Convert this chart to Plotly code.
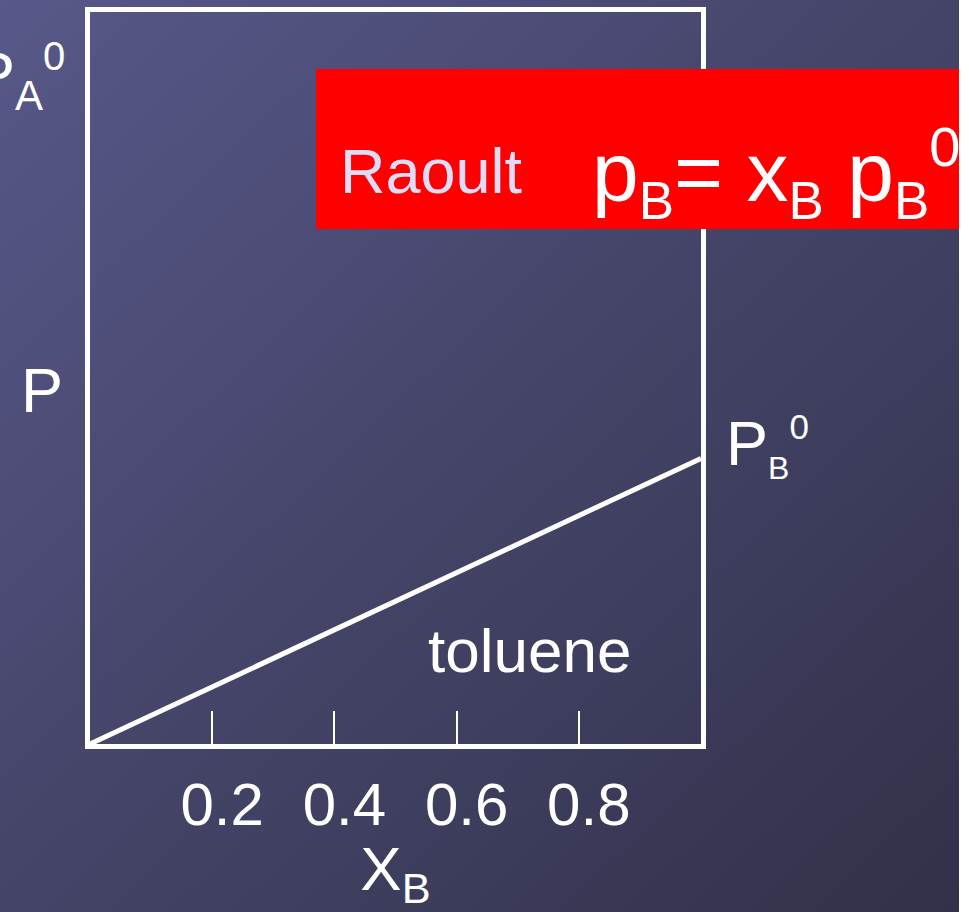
import base64
import plotly.graph_objects as go

# Vapour pressure of toluene (component B) vs. its mole fraction, ideal (Raoult) behaviour
x_b = [0.0, 1.0]
p_toluene = [0.0, 0.39]          # p_B = x_B * p_B0, with p_B0 as a fraction of the P axis
tick_vals = [0.2, 0.4, 0.6, 0.8]
tick_text = ["0.2", "0.4", "0.6", "0.8"]

W, H = 969, 912
SLIDE_W = 959
FONT = "Liberation Sans, Arial, sans-serif"


def px(x):
    return x / W


def py(y):
    return 1 - y / H


# diagonal slide-style gradient used as the backdrop
svg = f"""<svg xmlns='http://www.w3.org/2000/svg' width='{SLIDE_W}' height='{H}' viewBox='0 0 {SLIDE_W} {H}' preserveAspectRatio='none'>
<defs><linearGradient id='g' x1='0' y1='0' x2='1' y2='1'>
<stop offset='0' stop-color='#58588a'/>
<stop offset='0.5' stop-color='#444468'/>
<stop offset='1' stop-color='#31314a'/>
</linearGradient></defs>
<rect width='{SLIDE_W}' height='{H}' fill='url(#g)'/></svg>"""
bg_uri = "data:image/svg+xml;base64," + base64.b64encode(svg.encode()).decode()

fig = go.Figure()
fig.add_trace(go.Scatter(
    x=x_b, y=p_toluene, mode="lines",
    line=dict(color="white", width=5),
    hoverinfo="skip", showlegend=False,
))

fig.update_layout(
    width=W, height=H,
    margin=dict(l=0, r=0, t=0, b=0),
    paper_bgcolor="white",
    plot_bgcolor="rgba(0,0,0,0)",
    font=dict(family=FONT, color="white"),
    images=[dict(
        source=bg_uri, xref="paper", yref="paper",
        x=0, y=1, sizex=SLIDE_W / W, sizey=1,
        xanchor="left", yanchor="top", sizing="stretch", layer="below",
    )],
    xaxis=dict(
        domain=[px(90), px(701)], range=[0, 1],
        showgrid=False, zeroline=False,
        showline=True, linecolor="white", linewidth=5, mirror=True,
        ticks="inside", ticklen=33, tickwidth=2, tickcolor="white",
        tickvals=tick_vals, ticktext=tick_text,
        tickfont=dict(size=60, family=FONT, color="white"),
        ticklabelstandoff=4, ticklabelshift=10,
        title=dict(text="X<sub>B</sub>", font=dict(size=62, family=FONT, color="white"),
                   standoff=26),
    ),
    yaxis=dict(
        domain=[py(744), py(12)], range=[0, 1],
        showgrid=False, zeroline=False,
        showline=True, linecolor="white", linewidth=5, mirror=True,
        ticks="", showticklabels=False,
    ),
    shapes=[dict(
        type="rect", xref="paper", yref="paper",
        x0=px(316), x1=px(SLIDE_W), y0=py(229), y1=py(69),
        fillcolor="#ff0000", line=dict(width=0), layer="above",
    )],
)

ann = [
    dict(text="P", x=px(42), y=py(390), xanchor="center", yanchor="middle",
         font=dict(size=63)),
    dict(text='P<sub><span style="font-size:42px">A</span></sub>'
              '<sup><span style="font-size:40px">0</span></sup>',
         x=px(67), y=py(77), xanchor="right", yanchor="middle",
         font=dict(size=63)),
    dict(text='P<sub><span style="font-size:32px">B</span></sub>'
              '<sup><span style="font-size:35px">0</span></sup>',
         x=px(724), y=py(446), xanchor="left", yanchor="middle",
         font=dict(size=63)),
    dict(text="toluene", x=px(529), y=py(650), xanchor="center", yanchor="middle",
         font=dict(size=62)),
    dict(text="Raoult", x=px(338), y=py(171), xanchor="left", yanchor="middle",
         font=dict(size=63, color="#dedcf6")),
    dict(text='p<sub><span style="font-size:53px">B</span></sub>= '
              'x<sub><span style="font-size:53px">B</span></sub> '
              'p<sub><span style="font-size:53px">B</span></sub>'
              '<sup><span style="font-size:56px">0</span></sup>',
         x=px(590), y=py(172), xanchor="left", yanchor="middle",
         font=dict(size=84)),
]
for a in ann:
    a.update(xref="paper", yref="paper", showarrow=False)
    a["font"] = dict(family=FONT, color=a["font"].get("color", "white"),
                     size=a["font"]["size"])
fig.update_layout(annotations=ann)

fig.write_html("out.html")
